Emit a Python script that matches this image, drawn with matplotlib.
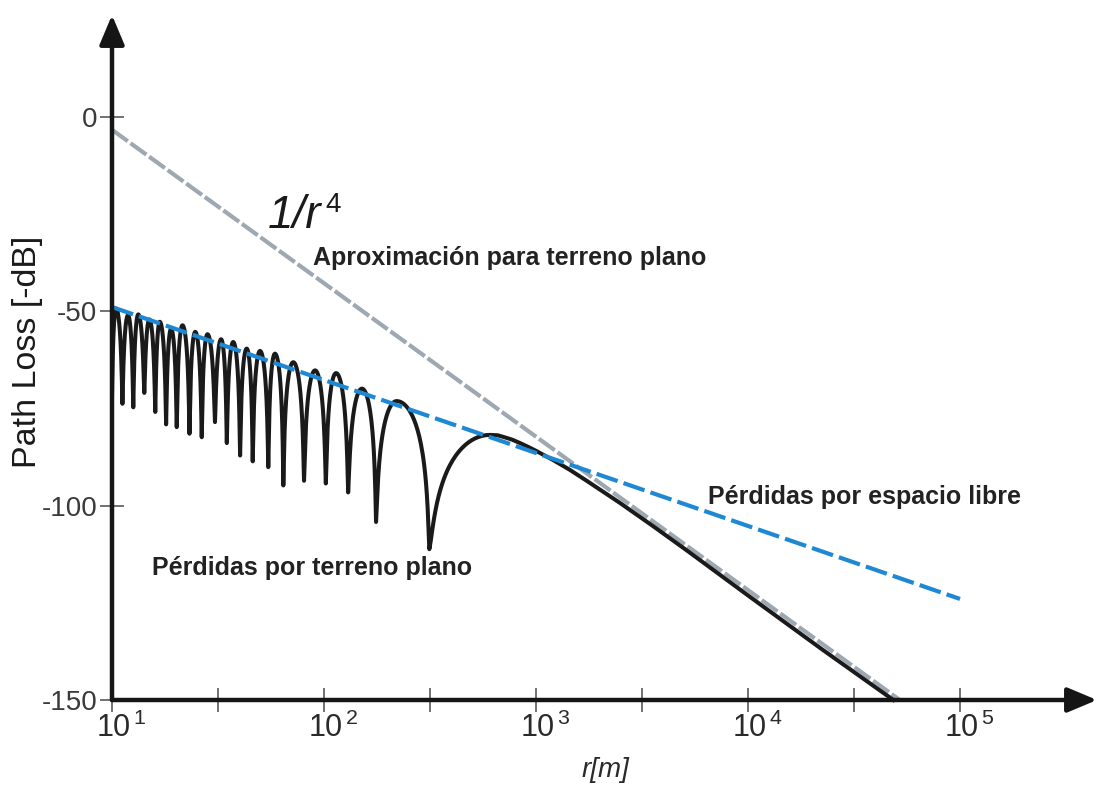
"""Two-ray (flat terrain) path loss vs. free-space and 1/r^4 approximation."""
import matplotlib
matplotlib.use("Agg")
import matplotlib.pyplot as plt
import numpy as np
from matplotlib.transforms import ScaledTranslation

# ---- data ----
# black curve: alternating nulls (troughs) and lobes (peaks), then the 1/r^4 tail
trough_r = [10, 11.2, 12.6, 14.2, 16.0, 18.0, 20.2, 23.2, 26.5, 30.6,
            34.8, 40.2, 46.1, 54.6, 64.3, 80.5, 102, 130, 176, 314]
trough_db = [-72.0, -73.8, -74.7, -71.0, -75.9, -79.1, -79.8, -81.5, -82.4, -78.5,
             -83.9, -87.1, -88.6, -90.1, -94.8, -93.6, -94.3, -96.6, -104.2, -111.2]
peak_r = [10.45, 11.9, 13.3, 15.0, 16.8, 19.0, 21.5, 24.7, 28.2, 32.7,
          37.3, 43.2, 49.9, 58.7, 71.6, 90.8, 114, 151, 220, 607]
peak_db = [-49.3, -51.0, -50.8, -52.1, -52.7, -54.5, -53.6, -55.3, -55.9, -57.2,
           -57.9, -59.6, -60.2, -60.9, -63.1, -65.2, -65.9, -69.9, -73.1, -81.8]
tail_r = [660, 700, 770, 841, 920, 1000, 1208, 1445, 1734, 2489, 3573, 5140,
          7380, 10000, 22390, 48500]
tail_db = [-81.9, -82.3, -83.0, -83.9, -84.9, -85.9, -88.3, -90.8, -93.6, -99.3,
           -105.3, -111.5, -117.8, -123.1, -137.0, -150.0]

# free space (1/r^2) and flat-terrain approximation (1/r^4)
fs_r = [10, 1e5]
fs_db = [-48.9, -124.0]
r4_r = [10, 5.2e4]
r4_db = [-3.3, -150.0]

y_ticks = [0, -50, -100, -150]
x_ticks = [10, 10**1.5, 100, 10**2.5, 1e3, 10**3.5, 1e4, 10**4.5, 1e5]
x_ticklabels = [r"10$^{\,1}$", "", r"10$^{\,2}$", "", r"10$^{\,3}$", "",
                r"10$^{\,4}$", "", r"10$^{\,5}$"]

# ---- layout (pixels of the 1102x788 reference) ----
W, H = 1102, 788
AX_L, AX_B, AX_R, AX_T = 112, 700, 1097, 15
PX_DEC, PX_DB = 212.0, 3.887

plt.rcParams["font.family"] = ["Liberation Sans", "DejaVu Sans"]
plt.rcParams["mathtext.fontset"] = "custom"
plt.rcParams["mathtext.rm"] = "Liberation Sans"
plt.rcParams["lines.scale_dashes"] = False


def fpx(x, y):
    return x / W, 1 - y / H


def lobe_curve(ext_r, ext_db, n=40):
    """Join consecutive extrema with a null-shaped stroke (sharp at nulls, round at lobes)."""
    ls, ys = [], []
    lr = np.log10(ext_r)
    t = np.linspace(0, 1, n)
    for k in range(len(ext_r) - 1):
        a, b = k, k + 1
        rising = ext_db[b] > ext_db[a]
        lo, hi = (ext_db[a], ext_db[b]) if rising else (ext_db[b], ext_db[a])
        u = t if rising else 1 - t
        amin = 10 ** ((lo - hi) / 20)
        amp = amin + (1 - amin) * np.sin(np.pi * u / 2) ** 1.4
        ls.append(lr[a] + (lr[b] - lr[a]) * t)
        ys.append(hi + 20 * np.log10(amp))
    return 10 ** np.concatenate(ls), np.concatenate(ys)


fig = plt.figure(figsize=(W / 100, H / 100), dpi=100)
ax = fig.add_axes([AX_L / W, 1 - AX_B / H, (AX_R - AX_L) / W, (AX_B - AX_T) / H])
ax.set_xscale("log")
ax.set_xlim(10, 10 ** (1 + (AX_R - AX_L) / PX_DEC))
ax.set_ylim(-150, -150 + (AX_B - AX_T) / PX_DB)
for s in ax.spines.values():
    s.set_visible(False)

ext_r, ext_db = [], []
for tr, td, pr, pd in zip(trough_r, trough_db, peak_r, peak_db):
    ext_r += [tr, pr]
    ext_db += [td, pd]
cr, cy = lobe_curve(ext_r, ext_db)
cr = np.concatenate([cr, tail_r])
cy = np.concatenate([cy, tail_db])

ax.plot(r4_r, r4_db, color="#9ea8b2", lw=3.0, dashes=(14, 2.5), zorder=2,
        clip_on=False)
ax.plot(cr, cy, color="#1a1a1a", lw=2.9, zorder=3, clip_on=False,
        solid_joinstyle="round")
ax.plot(fs_r, fs_db, color="#1f88d4", lw=3.0, dashes=(16, 4.5), zorder=4)

# axes with arrow heads
arrow = dict(arrowstyle="-|>,head_length=1.0,head_width=0.42", lw=3.2,
             color="#151515", shrinkA=0, shrinkB=0, mutation_scale=18)
ax.annotate("", xy=(1, 0), xytext=(0, 0), xycoords="axes fraction",
            arrowprops=arrow, annotation_clip=False, zorder=6)
ax.annotate("", xy=(0, 1), xytext=(0, 0), xycoords="axes fraction",
            arrowprops=arrow, annotation_clip=False, zorder=6)

ax.set_yticks(y_ticks)
ax.set_yticklabels([str(v) for v in y_ticks])
ax.set_xticks(x_ticks)
ax.set_xticklabels(x_ticklabels)
ax.minorticks_off()
ax.tick_params(axis="both", direction="inout", length=17, width=1.1,
               color="#4a4a4a")
ax.tick_params(axis="y", labelsize=20, labelcolor="#3a3a3a", pad=2)
ax.tick_params(axis="x", labelsize=22, labelcolor="#2a2a2a", pad=1)
shift = ScaledTranslation(9 / 100, 0, fig.dpi_scale_trans)
for lab in ax.get_xticklabels():
    lab.set_transform(lab.get_transform() + shift)

# labels and annotations
fig.text(*fpx(28, 352), "Path Loss [-dB]", rotation=90, ha="center",
         va="center", fontsize=24.5, color="#1a1a1a")
fig.text(*fpx(582, 777), "r[m]", style="italic", ha="left", va="baseline",
         fontsize=20, color="#2a2a2a")
fig.text(*fpx(268, 228), "1/r", style="italic", ha="left", va="baseline",
         fontsize=33, color="#1a1a1a")
fig.text(*fpx(325, 212), "4", ha="left", va="baseline", fontsize=20,
         color="#1a1a1a")
txt = dict(ha="left", va="baseline", fontsize=18, fontweight="bold",
           color="#222222")
fig.text(*fpx(313, 265), "Aproximación para terreno plano", **txt)
fig.text(*fpx(708, 504), "Pérdidas por espacio libre", **txt)
fig.text(*fpx(152, 575), "Pérdidas por terreno plano", **txt)

fig.savefig("out.png", dpi=100)
